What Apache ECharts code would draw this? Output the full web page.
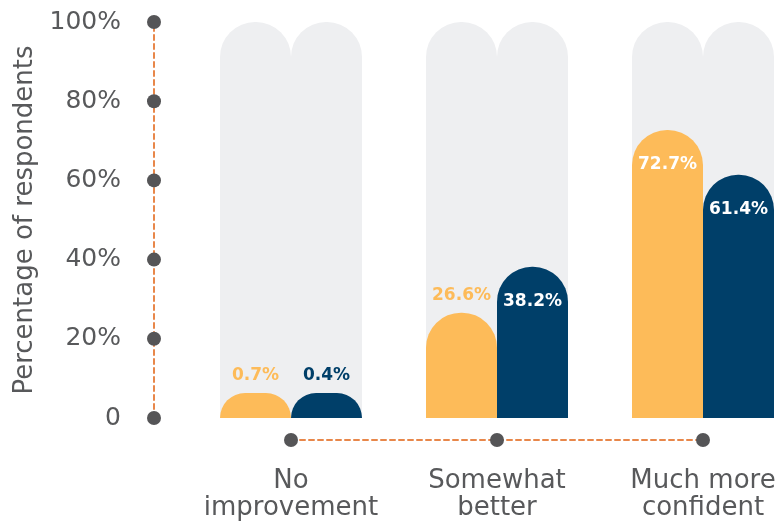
<!DOCTYPE html>
<html>
<head>
<meta charset="utf-8">
<script src="https://cdn.jsdelivr.net/npm/echarts@6/dist/echarts.min.js"></script>
<style>
  html, body { margin: 0; padding: 0; background: #fff; }
  #chart { width: 780px; height: 523px; }
</style>
</head>
<body>
<div id="chart"></div>
<script>
// chart data
const categories = ['No\nimprovement', 'Somewhat\nbetter', 'Much more\nconfident']
const seriesA = [0.7, 26.6, 72.7]
const seriesB = [0.4, 38.2, 61.4]
const yTickLabels = ['0', '20%', '40%', '60%', '80%', '100%']

const FONT = 'DejaVu Sans'
const YELLOW = '#FDBB59'
const NAVY = '#003F69'
const GREY_TEXT = '#58595B'
const DOT = '#555557'
const DASH = '#E8874A'

// small bars get their label above in the bar colour, tall ones inside in white
function buildData(values, color) {
  return values.map(v => {
    const inside = v > 30
    return {
      value: v,
      label: {
        show: true,
        position: inside ? 'insideTop' : 'top',
        distance: inside ? 26 : 9,
        color: inside ? '#fff' : color,
        fontFamily: FONT,
        fontWeight: 'bold',
        fontSize: 17,
        formatter: p => p.value + '%'
      }
    }
  })
}

const barCommon = {
  type: 'bar',
  barWidth: 71,
  barGap: '0%',
  barMinHeight: 25,
  clip: false,
  showBackground: true,
  backgroundStyle: { color: '#EEEFF1', borderRadius: [35, 35, 0, 0] }
}

const chart = echarts.init(document.getElementById('chart'))
chart.setOption({
  animation: false,
  grid: { left: 291, right: 77, top: 22, bottom: 105 },
  xAxis: [
    {
      // dashed line with the dots
      type: 'category',
      data: categories,
      boundaryGap: false,
      position: 'bottom',
      offset: 22,
      axisLine: { onZero: false, lineStyle: { color: DASH, width: 2, type: [5, 4] } },
      axisTick: { show: false },
      axisLabel: {
        interval: 0,
        margin: -7,
        formatter: () => '{d|}',
        rich: { d: { width: 14, height: 14, borderRadius: 7, backgroundColor: DOT } }
      }
    },
    {
      // category text
      type: 'category',
      data: categories,
      boundaryGap: false,
      position: 'bottom',
      offset: 22,
      axisLine: { show: false, onZero: false },
      axisTick: { show: false },
      axisLabel: {
        interval: 0,
        margin: 28,
        fontFamily: FONT,
        fontSize: 26,
        lineHeight: 27,
        color: GREY_TEXT
      }
    }
  ],
  yAxis: {
    type: 'value',
    min: 0,
    max: 100,
    interval: 20,
    offset: 137,
    name: 'Percentage of respondents',
    nameLocation: 'middle',
    nameGap: 114,
    nameTextStyle: { fontFamily: FONT, fontSize: 26, color: GREY_TEXT },
    splitLine: { show: false },
    axisTick: { show: false },
    axisLine: { show: true, lineStyle: { color: DASH, width: 2, type: [5, 4] } },
    axisLabel: {
      margin: -7,
      align: 'right',
      formatter: v => '{v|' + yTickLabels[Math.round(v / 20)] + '}{d|}',
      rich: {
        v: { fontFamily: FONT, fontSize: 25, color: GREY_TEXT, padding: [0, 26, 0, 0] },
        d: { width: 14, height: 14, borderRadius: 7, backgroundColor: DOT }
      }
    }
  },
  series: [
    Object.assign({}, barCommon, {
      name: 'A',
      itemStyle: { color: YELLOW, borderRadius: [35, 35, 0, 0] },
      data: buildData(seriesA, YELLOW)
    }),
    Object.assign({}, barCommon, {
      name: 'B',
      itemStyle: { color: NAVY, borderRadius: [35, 35, 0, 0] },
      data: buildData(seriesB, NAVY)
    })
  ]
})
</script>
</body>
</html>
